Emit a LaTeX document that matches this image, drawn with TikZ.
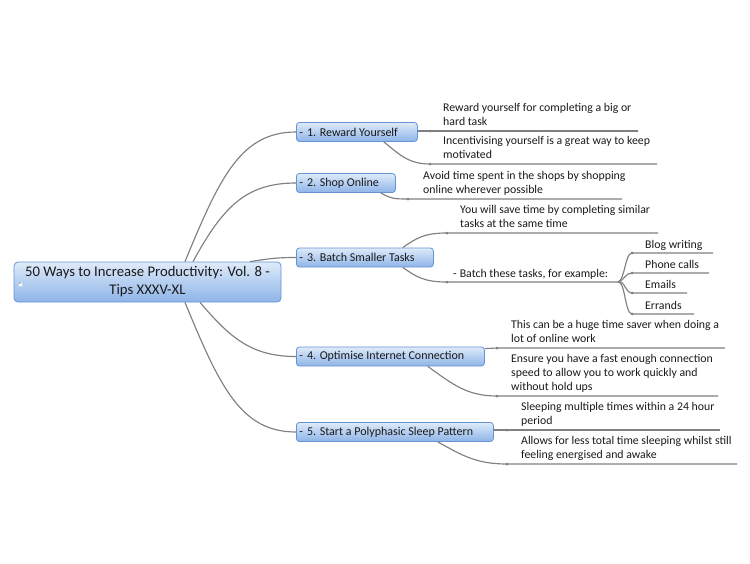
\documentclass[tikz,border=0pt]{standalone}
\usepackage{fontspec}
\setmainfont{Carlito}
\usetikzlibrary{calc}
\definecolor{lineg}{HTML}{808080}
\definecolor{boxtop}{HTML}{DFEBF9}
\definecolor{boxmid}{HTML}{B5CFF1}
\definecolor{boxbot}{HTML}{8FB4E7}
\definecolor{boxline}{HTML}{6494D6}
\definecolor{txt}{HTML}{1A1A1A}
\begin{document}
\begin{tikzpicture}[x=1pt,y=-1pt,
  conn/.style={draw=lineg, line width=1.15pt},
  mainbox/.style={draw=boxline, line width=0.8pt, rounded corners=3pt,
    top color=boxtop, bottom color=boxbot, middle color=boxmid,
    anchor=west, minimum height=19pt, inner xsep=3pt, inner ysep=0pt,
    font=\fontsize{12}{13}\selectfont, align=flush left, text=txt},
  rootbox/.style={draw=boxline, line width=0.8pt, rounded corners=4pt,
    top color=boxtop, bottom color=boxbot, middle color=boxmid,
    minimum width=267pt, minimum height=40pt, inner sep=0pt,
    font=\fontsize{14.7}{18}\selectfont, align=flush center, text=txt},
  leaf/.style={anchor=south west, inner sep=0pt, text depth=0pt, align=flush left,
    font=\fontsize{11.8}{14}\selectfont, text=txt},
  jdot/.style={circle, fill=lineg, inner sep=0pt, minimum size=3pt},
  marker/.style={fill=white!85!boxtop, draw=boxline!40, line width=0.3pt, inner sep=0.6pt,
    font=\fontsize{7}{7}\selectfont, text=txt}
]
\useasboundingbox (0,0) rectangle (750,563);

% root
\node[rootbox] (root) at (147.5,282) {50 Ways to Increase Productivity: Vol. 8 -\\Tips XXXV-XL};
\node[marker] (rm) at (20,284) {-};

% main topics
\node[mainbox, text width=115pt] (m1) at (296,132) {-\hspace{4pt}1. Reward Yourself};
\node[mainbox, text width=93pt] (m2) at (296,183) {-\hspace{4pt}2. Shop Online};
\node[mainbox, text width=131pt] (m3) at (296,257.5) {-\hspace{4pt}3. Batch Smaller Tasks};
\node[mainbox, text width=182pt] (m4) at (296,356.5) {-\hspace{4pt}4. Optimise Internet Connection};
\node[mainbox, text width=191pt] (m5) at (296,432) {-\hspace{4pt}5. Start a Polyphasic Sleep Pattern};

% root connectors
\draw[conn] ([xshift=37.5pt]root.north) .. controls +(35,-85) and +(-55,0) .. (m1.west);
\draw[conn] ([xshift=45.5pt]root.north) .. controls +(30,-55) and +(-50,0) .. (m2.west);
\draw[conn] ([xshift=102.5pt]root.north) .. controls +(20,-3) and +(-20,0) .. (m3.west);
\draw[conn] ([xshift=52.5pt]root.south) .. controls +(30,35) and +(-45,0) .. (m4.west);
\draw[conn] ([xshift=37.5pt]root.south) .. controls +(35,85) and +(-55,0) .. (m5.west);

% junction coordinates
\coordinate (d1a) at (430,131);   \coordinate (e1a) at (638,131);
\coordinate (d1b) at (430,164);   \coordinate (e1b) at (657,164);
\coordinate (d2a) at (408,199);   \coordinate (e2a) at (622,199);
\coordinate (d3a) at (447,233);   \coordinate (e3a) at (658,233);
\coordinate (d3b) at (447,282);   \coordinate (e3b) at (618,282);
\coordinate (f1) at (632,253);    \coordinate (g1) at (713,253);
\coordinate (f2) at (632,273);    \coordinate (g2) at (709,273);
\coordinate (f3) at (632,293);    \coordinate (g3) at (687,293);
\coordinate (f4) at (632,314);    \coordinate (g4) at (694,314);
\coordinate (d4a) at (497,348);   \coordinate (e4a) at (725,348);
\coordinate (d4b) at (497,396);   \coordinate (e4b) at (718,396);
\coordinate (d5a) at (507,430);   \coordinate (e5a) at (720,430);
\coordinate (d5b) at (507,464);   \coordinate (e5b) at (737,464);

% 1. Reward
\draw[conn] (m1.east |- d1a) -- (d1a) -- (e1a);
\draw[conn] ([xshift=-34pt]m1.south east) .. controls +(15,12) and +(-22,0) .. (d1b) -- (e1b);
\node[leaf] (t1a) at ([shift={(13,-5)}]d1a) {Reward yourself for completing a big or\\hard task};
\node[leaf] (t1b) at ([shift={(13,-5)}]d1b) {Incentivising yourself is a great way to keep\\motivated};

% 2. Shop
\draw[conn] ([xshift=-15pt]m2.south east) .. controls +(10,6) and +(-12,0) .. (d2a) -- (e2a);
\node[leaf] (t2a) at ([shift={(15,-5)}]d2a) {Avoid time spent in the shops by shopping\\online wherever possible};

% 3. Batch
\draw[conn] ([xshift=-31pt]m3.north east) .. controls +(14,-10) and +(-22,0) .. (d3a) -- (e3a);
\draw[conn] ([xshift=-31pt]m3.south east) .. controls +(14,10) and +(-22,0) .. (d3b) -- (e3b);
\node[leaf] (t3a) at ([shift={(13,-5)}]d3a) {You will save time by completing similar\\tasks at the same time};
\node[leaf] (t3b) at ([shift={(6,-4.5)}]d3b) {-\hspace{3pt}Batch these tasks, for example:};
\foreach \i in {1,2,3,4}{
  \draw[conn] (e3b) .. controls +(7,-2) and +(-7,0) .. (f\i) -- (g\i);
}
\node[leaf] (u1) at ([shift={(13,-4.5)}]f1) {Blog writing};
\node[leaf] (u2) at ([shift={(13,-4.5)}]f2) {Phone calls};
\node[leaf] (u3) at ([shift={(13,-4.5)}]f3) {Emails};
\node[leaf] (u4) at ([shift={(13,-4.5)}]f4) {Errands};

% 4. Optimise
\draw[conn] ([yshift=-2pt]m4.north east) -- (d4a) -- (e4a);
\draw[conn] ([xshift=-57pt]m4.south east) .. controls +(25,18) and +(-30,0) .. (d4b) -- (e4b);
\node[leaf] (t4a) at ([shift={(14,-5)}]d4a) {This can be a huge time saver when doing a\\lot of online work};
\node[leaf] (t4b) at ([shift={(14,-5)}]d4b) {Ensure you have a fast enough connection\\speed to allow you to work quickly and\\without hold ups};

% 5. Sleep
\draw[conn] (m5.east |- d5a) -- (d5a) -- (e5a);
\draw[conn] ([xshift=-56pt]m5.south east) .. controls +(25,14) and +(-30,0) .. (d5b) -- (e5b);
\node[leaf] (t5a) at ([shift={(14,-5)}]d5a) {Sleeping multiple times within a 24 hour\\period};
\node[leaf] (t5b) at ([shift={(14,-5)}]d5b) {Allows for less total time sleeping whilst still\\feeling energised and awake};

% junction dots
\foreach \p in {d1a,d1b,d2a,d3a,d3b,d4a,d4b,d5a,d5b,f1,f2,f3,f4}{
  \node[jdot] at (\p) {};
}
\end{tikzpicture}
\end{document}
